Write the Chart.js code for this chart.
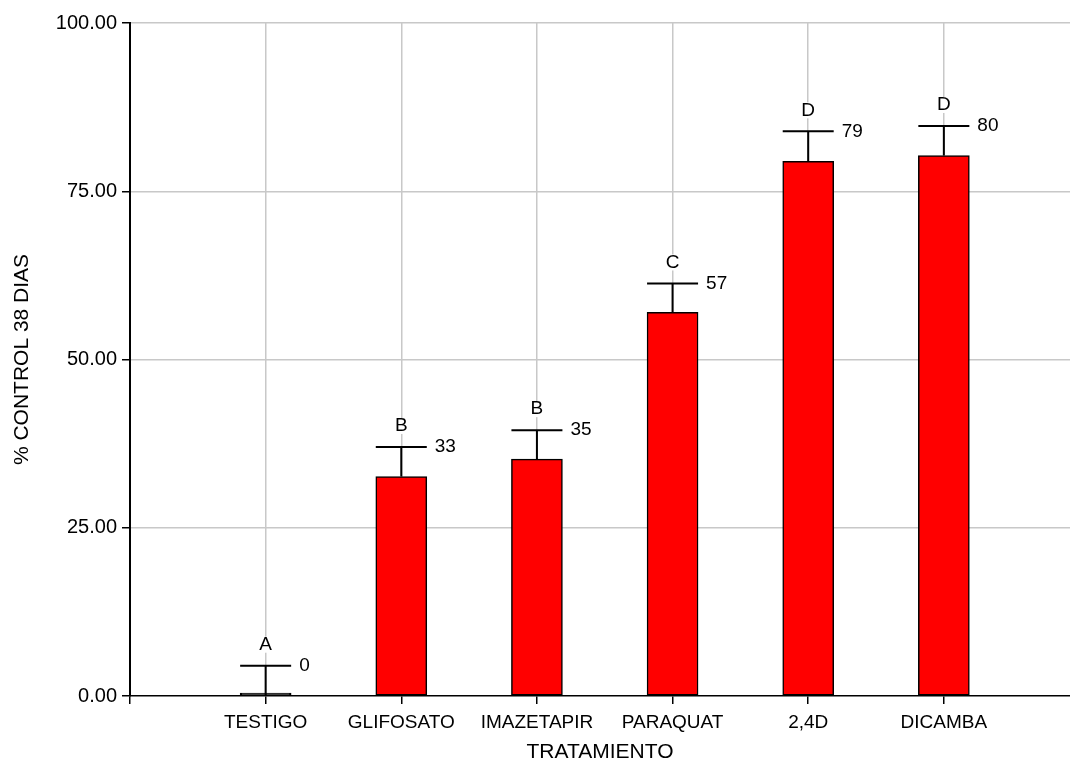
<!DOCTYPE html>
<html>
<head>
<meta charset="utf-8">
<script src="https://cdn.jsdelivr.net/npm/chart.js@4/dist/chart.umd.min.js"></script>
<style>
  html, body { margin: 0; padding: 0; background: #fff; }
  #wrap { width: 1070px; height: 763px; position: relative; }
</style>
</head>
<body>
<div id="wrap"><canvas id="c"></canvas></div>
<script>
// Treatments and their mean % control at 38 days
const categories = ['TESTIGO', 'GLIFOSATO', 'IMAZETAPIR', 'PARAQUAT', '2,4D', 'DICAMBA'];
const means = [0, 32.6, 35.2, 57.0, 79.45, 80.3];
// Upper error (added to the mean)
const errors = [4.5, 4.4, 4.3, 4.3, 4.45, 4.4];
// Mean-separation letters
const groups = ['A', 'B', 'B', 'C', 'D', 'D'];
const yTicks = [0, 25, 50, 75, 100];

const FONT = '"Liberation Sans", Arial, sans-serif';
const GRID = '#c8c8c8';

const points = categories.map((c, i) => ({ x: i + 1, y: means[i] }));

// Error bars, group letters and rounded value labels
const annotate = {
  id: 'annotate',
  afterDatasetsDraw(chart) {
    const { ctx, scales: { x, y } } = chart;
    const meta = chart.getDatasetMeta(0);
    ctx.save();
    for (let i = 0; i < categories.length; i++) {
      const bar = meta.data[i];
      const half = bar.width / 2;
      const xp = x.getPixelForValue(i + 1);
      const y0 = y.getPixelForValue(means[i]);
      const y1 = y.getPixelForValue(means[i] + errors[i]);
      ctx.strokeStyle = '#000';
      ctx.lineWidth = 2;
      ctx.beginPath();
      ctx.moveTo(xp, y0);
      ctx.lineTo(xp, y1);
      ctx.moveTo(xp - half, y1);
      ctx.lineTo(xp + half, y1);
      ctx.stroke();

      ctx.font = '19px ' + FONT;
      ctx.textBaseline = 'middle';
      // letter with a white backing so the grid line breaks around it
      const ly = y1 - 21;
      const w = ctx.measureText(groups[i]).width;
      ctx.fillStyle = '#fff';
      ctx.fillRect(xp - w / 2 - 1, ly - 8, w + 2, 16);
      ctx.fillStyle = '#000';
      ctx.textAlign = 'center';
      ctx.fillText(groups[i], xp, ly);

      ctx.textAlign = 'left';
      ctx.fillText(String(Math.round(means[i])), xp + half + 8, y1);
    }
    ctx.restore();
  }
};

new Chart(document.getElementById('c'), {
  type: 'bar',
  data: {
    datasets: [{
      data: points,
      // a zero mean still shows as a solid black stub on the baseline
      backgroundColor: (ctx) => (ctx.raw && ctx.raw.y === 0 ? '#000' : '#ff0000'),
      borderColor: '#000',
      borderWidth: 1.5,
      borderSkipped: false,
      barThickness: 51,
      minBarLength: 3
    }]
  },
  plugins: [annotate],
  options: {
    responsive: true,
    maintainAspectRatio: false,
    animation: false,
    layout: { padding: { top: 23, right: 0, bottom: 0, left: 0 } },
    plugins: { legend: { display: false }, tooltip: { enabled: false } },
    scales: {
      x: {
        type: 'linear',
        offset: false,
        min: 0,
        max: 6.93,
        afterBuildTicks(scale) {
          scale.ticks = [0].concat(categories.map((c, i) => i + 1)).map(v => ({ value: v }));
        },
        afterFit(scale) { scale.height = 67; },
        ticks: {
          autoSkip: false,
          maxRotation: 0,
          color: '#000',
          padding: 7,
          font: { family: FONT, size: 19 },
          callback: (v) => (v >= 1 ? categories[v - 1] : '')
        },
        grid: {
          offset: false,
          color: (ctx) => (ctx.tick && ctx.tick.value === 0 ? 'rgba(0,0,0,0)' : GRID),
          lineWidth: 1.5,
          tickColor: '#000',
          tickLength: 8,
          tickWidth: 1.5
        },
        border: { display: true, color: '#000', width: 1.5 },
        title: {
          display: true,
          text: 'TRATAMIENTO',
          color: '#000',
          font: { family: FONT, size: 21 },
          padding: { top: 3, bottom: -2 }
        }
      },
      y: {
        min: 0,
        max: 100,
        afterBuildTicks(scale) {
          scale.ticks = yTicks.map(v => ({ value: v }));
        },
        afterFit(scale) { scale.width = 130; },
        ticks: {
          color: '#000',
          padding: 5,
          font: { family: FONT, size: 20 },
          callback: (v) => Number(v).toFixed(2)
        },
        grid: {
          color: (ctx) => (ctx.tick && ctx.tick.value === 0 ? 'rgba(0,0,0,0)' : GRID),
          lineWidth: 1.5,
          tickColor: '#000',
          tickLength: 8,
          tickWidth: 1.5
        },
        border: { display: true, color: '#000', width: 2 },
        title: {
          display: true,
          text: '% CONTROL 38 DIAS',
          color: '#000',
          font: { family: FONT, size: 21 },
          padding: { top: 10, bottom: 0 }
        }
      }
    }
  }
});
</script>
</body>
</html>
